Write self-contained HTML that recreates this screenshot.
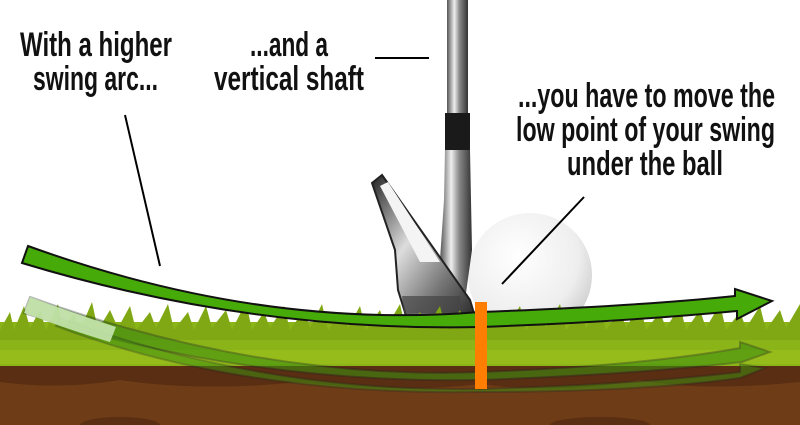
<!DOCTYPE html>
<html><head><style>html,body{margin:0;padding:0;background:#fff}svg{display:block}</style></head>
<body>
<svg width="800" height="425" viewBox="0 0 800 425" xmlns="http://www.w3.org/2000/svg" font-family="Liberation Sans, sans-serif">
<defs>
<linearGradient id="shaft" x1="0" x2="1"><stop offset="0" stop-color="#555"/><stop offset="0.35" stop-color="#eee"/><stop offset="0.6" stop-color="#888"/><stop offset="1" stop-color="#333"/></linearGradient>
<radialGradient id="ball" cx="0.4" cy="0.35" r="0.7"><stop offset="0" stop-color="#fff"/><stop offset="0.7" stop-color="#eee"/><stop offset="1" stop-color="#ccc"/></radialGradient>
<linearGradient id="head" x1="0" x2="1" y1="0" y2="1"><stop offset="0" stop-color="#222"/><stop offset="0.4" stop-color="#ddd"/><stop offset="0.7" stop-color="#777"/><stop offset="1" stop-color="#222"/></linearGradient>
</defs>
<circle cx="530" cy="275" r="62" fill="url(#ball)"/>
<rect x="447" y="0" width="21" height="115" fill="url(#shaft)"/>
<rect x="445" y="113" width="25" height="38" fill="#1a1a1a"/>
<path d="M445 150 L470 150 L472 250 L465 300 L450 310 L440 260 L444 200 Z" fill="url(#shaft)"/>
<path d="M372 183 L382 175 L470 300 L476 320 L408 322 L398 290 L395 250 Z" fill="url(#head)" stroke="#222" stroke-width="2"/>
<path d="M402 296 L460 296 L462 312 L404 314 Z" fill="#444" opacity="0.7"/>
<path d="M380 186 L388 182 L440 262 L420 262 Z" fill="#f4f4f4"/>
<rect x="0" y="322" width="800" height="48" fill="#8ab418"/>
<path d="M0 330 L10 312 L14 330 L24 306 L30 328 L40 310 L46 330 L58 304 L62 328 L74 314 L80 330 L92 302 L98 330 L110 310 L118 328 L130 306 L136 330 L150 312 L156 328 L168 304 L174 330 L188 312 L194 330 L206 306 L212 328 L226 310 L232 330 L246 302 L252 330 L264 312 L270 328 L284 306 L290 330 L304 310 L310 328 L322 304 L328 330 L342 312 L348 328 L360 306 L366 330 L380 310 L386 328 L400 304 L406 330 L420 312 L426 328 L440 306 L446 330 L460 310 L466 328 L480 304 L486 330 L500 312 L506 328 L520 306 L526 330 L540 310 L546 328 L560 304 L566 330 L580 312 L586 328 L600 306 L606 330 L620 310 L626 328 L640 304 L646 330 L660 312 L666 328 L680 306 L686 330 L700 310 L706 328 L720 304 L726 330 L740 312 L746 328 L760 306 L766 330 L780 310 L786 328 L800 304 L800 340 L0 340 Z" fill="#7fa814"/>
<rect x="0" y="350" width="800" height="14" fill="#9cc21c" opacity="0.6"/>
<rect x="0" y="366" width="800" height="59" fill="#6e3d17"/>
<path d="M0 366 L800 366 L800 382 Q700 392 640 380 Q560 395 480 384 Q400 394 300 382 Q200 392 120 380 Q60 390 0 382 Z" fill="#5a2e12"/>
<ellipse cx="120" cy="425" rx="40" ry="8" fill="#5a2e12"/>
<ellipse cx="600" cy="425" rx="50" ry="8" fill="#5a2e12"/>
<path d="M30 297 Q260 380 480 372 Q640 366 740 348 L740 342 L770 352 L742 362 Q640 374 480 380 Q240 384 24 313 Z" fill="#3f8d10" opacity="0.6" stroke="#222" stroke-opacity="0.55" stroke-width="2"/>
<path d="M60 318 Q260 392 480 389 Q640 384 740 372 L740 364 L765 368 L740 378 Q640 392 480 392 Q240 396 56 326 Z" fill="#3f8d10" opacity="0.55" stroke="#222" stroke-opacity="0.5" stroke-width="2"/>
<path d="M30 297 L24 313 Q70 330 110 342 L116 327 Q70 312 30 297 Z" fill="#c8e6b0" opacity="0.9"/>
<path d="M28 246 Q260 330 480 312 Q640 306 735 296 L735 289 L772 301 L737 319 L737 311 Q620 322 480 327 Q250 332 22 263 Z" fill="#46aa08" stroke="#111" stroke-width="2"/>
<rect x="475" y="302" width="12" height="87" fill="#ff7d00"/>
<g stroke="#000" stroke-width="2">
<line x1="125" y1="115" x2="160" y2="266"/>
<line x1="375" y1="58" x2="429" y2="58"/>
<line x1="584" y1="197" x2="502" y2="284"/>
</g>
<g font-size="34" fill="#111" font-weight="bold">
<text x="20" y="56" textLength="152" lengthAdjust="spacingAndGlyphs">With a higher</text>
<text x="33" y="90" textLength="125" lengthAdjust="spacingAndGlyphs">swing arc...</text>
<text x="250" y="56" textLength="78" lengthAdjust="spacingAndGlyphs">...and a</text>
<text x="214" y="90" textLength="150" lengthAdjust="spacingAndGlyphs">vertical shaft</text>
<text x="518" y="107" textLength="257" lengthAdjust="spacingAndGlyphs">...you have to move the</text>
<text x="516" y="141" textLength="259" lengthAdjust="spacingAndGlyphs">low point of your swing</text>
<text x="567" y="175" textLength="156" lengthAdjust="spacingAndGlyphs">under the ball</text>
</g>
</svg>
</body></html>
